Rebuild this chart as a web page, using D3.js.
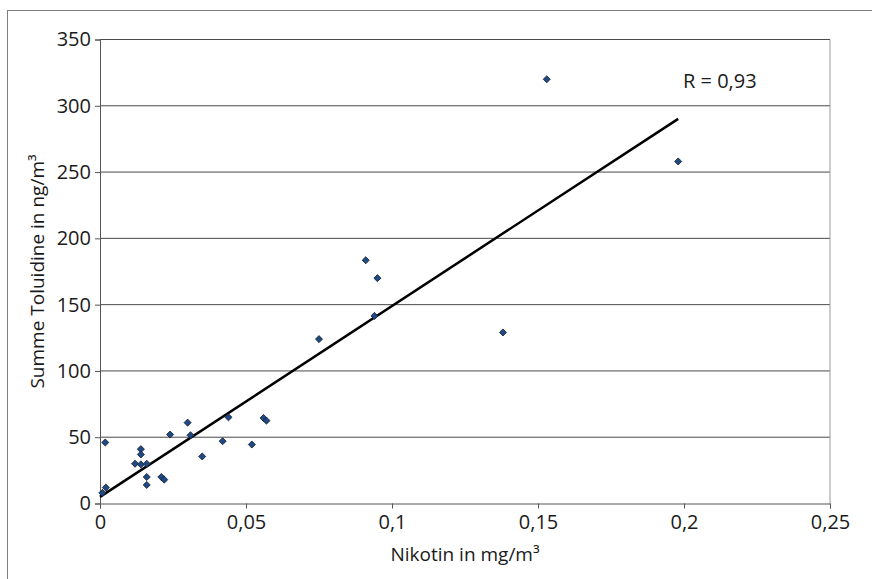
<!DOCTYPE html>
<html>
<head>
<meta charset="utf-8">
<script src="https://cdn.jsdelivr.net/npm/d3@7"></script>
<style>
body { margin: 0; background: #fff; }
svg { display: block; font-family: "Open Sans", sans-serif; }
.tick text { fill: #1a1a1a; }
</style>
</head>
<body>
<script>
//scatter plot: Nikotin vs. Summe Toluidine, with trend line
(function(){

//DATA
var nikotin = [0.0008, 0.002, 0.0018, 0.014, 0.014, 0.012, 0.014, 0.016, 0.016, 0.016,
	0.021, 0.022, 0.024, 0.030, 0.031, 0.035, 0.042, 0.044, 0.052, 0.056,
	0.057, 0.075, 0.094, 0.091, 0.095, 0.138, 0.153, 0.198];
var toluidine = [8, 12, 46, 41, 37, 30, 29.5, 30, 20, 14,
	20, 18, 52, 61, 51.5, 35.5, 47, 65, 44.5, 64.5,
	62.5, 124, 141.5, 183.5, 170, 129, 320, 258];
var xTicks = [0, 0.05, 0.1, 0.15, 0.2, 0.25];
var yTicks = [0, 50, 100, 150, 200, 250, 300, 350];
var trendIntercept = 5; //trend line y = a + b*x
var trendSlope = 1440;
var trendLabel = "R = 0,93";

window.onload = drawChart();

function drawChart(){
	var w = 872, h = 579;
	var plotL = 100, plotR = 830, plotT = 39.5, plotB = 503.5;

	var svg = d3.select("body")
		.append("svg")
		.attr("width", w)
		.attr("height", h);

	//outer frame (runs off the right and bottom edge)
	svg.append("rect")
		.attr("x", 7.5)
		.attr("y", 10.5)
		.attr("width", 900)
		.attr("height", 600)
		.attr("fill", "none")
		.attr("stroke", "#7f7f7f");

	//scales
	var x = d3.scaleLinear()
		.domain([0, 0.25])
		.range([plotL, plotR]);
	var y = d3.scaleLinear()
		.domain([0, 350])
		.range([plotB, plotT]);

	var comma = function(d){ return String(d).replace(".", ","); };

	//horizontal gridlines
	svg.append("g")
		.selectAll("line")
		.data(yTicks.slice(1))
		.enter()
		.append("line")
		.attr("x1", plotL)
		.attr("x2", plotR)
		.attr("y1", function(d){ return y(d); })
		.attr("y2", function(d){ return y(d); })
		.attr("stroke", "#4a4a4a")
		.attr("stroke-width", 1);

	//right edge of plot area
	svg.append("line")
		.attr("x1", plotR)
		.attr("x2", plotR)
		.attr("y1", plotT)
		.attr("y2", plotB)
		.attr("stroke", "#9a9a9a");

	//y axis
	var yAxis = svg.append("g")
		.attr("transform", "translate(" + plotL + ",0)")
		.call(d3.axisLeft(y).tickValues(yTicks).tickSize(5).tickPadding(4).tickFormat(comma));
	yAxis.selectAll("path, line").attr("stroke", "#555");
	yAxis.selectAll("text").style("font-size", "20px").style("font-family", "Open Sans");

	//x axis
	var xAxis = svg.append("g")
		.attr("transform", "translate(0," + plotB + ")")
		.call(d3.axisBottom(x).tickValues(xTicks).tickSize(5).tickPadding(6).tickFormat(comma));
	xAxis.selectAll("path, line").attr("stroke", "#555");
	xAxis.selectAll("text").style("font-size", "20px").style("font-family", "Open Sans");

	//trend line from 0 to the largest x
	var xMax = d3.max(nikotin);
	var line = d3.line()
		.x(function(d){ return x(d); })
		.y(function(d){ return y(trendIntercept + trendSlope * d); });
	svg.append("path")
		.datum([0, xMax])
		.attr("d", line)
		.attr("fill", "none")
		.attr("stroke", "#000")
		.attr("stroke-width", 2.5);

	//diamond markers
	var pts = nikotin.map(function(d, i){ return [d, toluidine[i]]; });
	svg.append("g")
		.selectAll("path")
		.data(pts)
		.enter()
		.append("path")
		.attr("d", d3.symbol().type(d3.symbolDiamond2).size(32))
		.attr("transform", function(d){ return "translate(" + x(d[0]) + "," + y(d[1]) + ")"; })
		.attr("fill", "#1c4a85")
		.attr("stroke", "#1a1a2a")
		.attr("stroke-width", 0.8);

	//correlation label
	svg.append("text")
		.attr("x", 683)
		.attr("y", 88)
		.style("font-size", "20px")
		.attr("fill", "#1a1a1a")
		.text(trendLabel);

	//axis titles
	svg.append("text")
		.attr("text-anchor", "middle")
		.attr("x", (plotL + plotR) / 2)
		.attr("y", 561)
		.style("font-size", "19px")
		.attr("fill", "#1a1a1a")
		.text("Nikotin in mg/m³");

	svg.append("text")
		.attr("text-anchor", "middle")
		.attr("transform", "translate(44," + ((plotT + plotB) / 2) + ") rotate(-90)")
		.style("font-size", "19px")
		.attr("fill", "#1a1a1a")
		.text("Summe Toluidine in ng/m³");
};

})();
</script>
</body>
</html>
